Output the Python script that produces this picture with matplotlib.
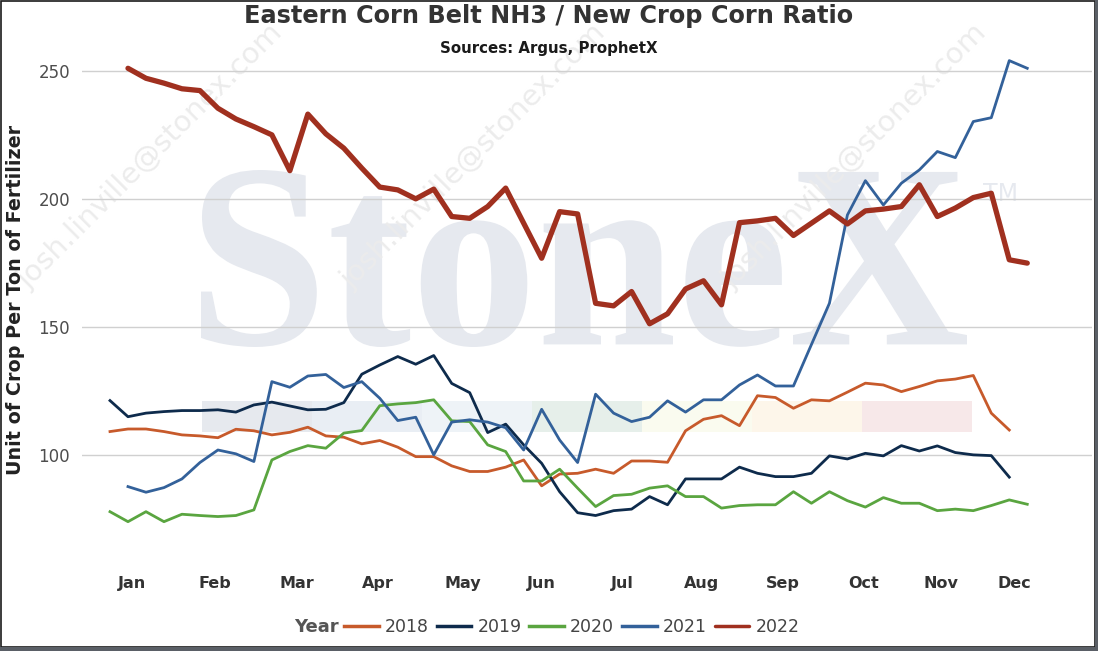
import numpy as np
import matplotlib
matplotlib.use("Agg")
from matplotlib import pyplot as plt
from matplotlib.patches import Rectangle, PathPatch
from matplotlib.textpath import TextPath
from matplotlib.font_manager import FontProperties
from matplotlib.transforms import Affine2D

# weekly ratio values (week index 0 = first week of Jan)
y2018 = [109.0, 110.0, 110.0, 109.0, 107.7, 107.3, 106.6, 109.9, 109.3, 107.7,
         108.7, 110.7, 107.3, 106.8, 104.2, 105.5, 102.9, 99.2, 99.2, 95.6,
         93.4, 93.4, 95.1, 97.9, 87.8, 92.4, 92.7, 94.3, 92.7, 97.5,
         97.5, 97.0, 109.3, 113.8, 115.2, 111.3, 123.0, 122.3, 118.1, 121.4,
         121.0, 124.4, 127.9, 127.2, 124.6, 126.6, 128.8, 129.5, 130.9, 116.2,
         109.6]
y2019 = [121.1, 114.8, 116.2, 116.8, 117.2, 117.2, 117.5, 116.6, 119.4, 120.5,
         119.0, 117.5, 117.7, 120.3, 131.4, 135.0, 138.3, 135.3, 138.7, 127.8,
         124.2, 108.6, 111.9, 103.8, 96.6, 85.5, 77.3, 76.2, 78.1, 78.7,
         83.6, 80.4, 90.5, 90.5, 90.5, 95.1, 92.7, 91.4, 91.4, 92.7,
         99.5, 98.3, 100.5, 99.5, 103.5, 101.4, 103.4, 100.8, 99.9, 99.6,
         91.2]
y2020 = [77.7, 73.8, 77.7, 73.8, 76.7, 76.2, 75.8, 76.2, 78.4, 97.9,
         101.2, 103.5, 102.5, 108.4, 109.4, 119.1, 119.8, 120.3, 121.4, 113.2,
         112.9, 103.8, 101.2, 89.7, 89.7, 94.3, 86.9, 79.7, 84.0, 84.5,
         86.9, 87.8, 83.6, 83.6, 79.1, 80.1, 80.4, 80.4, 85.5, 81.0,
         85.5, 82.0, 79.5, 83.2, 81.0, 81.0, 78.1, 78.7, 78.1, 80.1,
         82.3, 80.6]
y2021 = [87.5, 85.3, 87.1, 90.5, 96.9, 101.8, 100.3, 97.3, 128.5, 126.3,
         130.7, 131.3, 126.2, 128.5, 122.0, 113.3, 114.6, 99.9, 112.7, 113.6,
         112.7, 110.5, 101.8, 117.7, 105.7, 96.9, 123.6, 116.2, 112.9, 114.6,
         121.0, 116.6, 121.4, 121.4, 127.2, 131.1, 126.8, 126.8, 143.0, 159.1,
         193.6, 207.0, 197.5, 206.0, 211.2, 218.4, 216.0, 230.1, 231.6, 253.9,
         250.9]
y2022 = [250.9, 247.0, 245.1, 242.9, 242.2, 235.3, 231.1, 228.1, 224.9, 210.9,
         233.0, 225.3, 219.7, 211.9, 204.5, 203.4, 199.9, 203.7, 193.0, 192.3,
         196.9, 204.1, 190.4, 176.7, 194.9, 194.0, 159.1, 158.1, 163.7, 151.1,
         155.0, 164.7, 167.9, 158.5, 190.6, 191.3, 192.3, 185.6, 190.4, 195.2,
         190.1, 195.2, 195.9, 196.9, 205.4, 193.0, 196.3, 200.4, 202.1, 176.1,
         174.8]

wk2018 = np.arange(0, len(y2018))
wk2019 = np.arange(0, len(y2019))
wk2020 = np.arange(0, len(y2020))
wk2021 = np.arange(1, 1 + len(y2021))
wk2022 = np.arange(1, 1 + len(y2022))

months = ['Jan', 'Feb', 'Mar', 'Apr', 'May', 'Jun',
          'Jul', 'Aug', 'Sep', 'Oct', 'Nov', 'Dec']
month_pos = [1.22, 5.84, 10.4, 14.9, 19.6, 24.0, 28.5, 32.9, 37.4, 41.9, 46.2, 50.3]

W, H = 1098, 651
fig = plt.figure(figsize=(W / 100, H / 100), dpi=100)
fig.patch.set_facecolor('white')


def fx(px):
    return px / W


def fy(py):
    return 1 - py / H


# --- watermark (behind everything) ---
wm_color = '#e6e9ef'
tp = TextPath((0, 0), 'StoneX', size=100,
              prop=FontProperties(family='Liberation Serif', weight='bold'))
ext = tp.get_extents()
tr = (Affine2D().translate(-ext.x0, -ext.y0)
      .scale(766 / ext.width / W, 177 / ext.height / H)
      .translate(fx(201), fy(347)) + fig.transFigure)
fig.add_artist(PathPatch(tp, transform=tr, facecolor=wm_color, edgecolor='none', zorder=-3))
fig.text(fx(983), fy(194), 'TM', color=wm_color, fontsize=17, va='center', ha='left', zorder=-3)

band_colors = ['#e6e9ee', '#e9eef4', '#eef3f7', '#e6efea', '#fafbef', '#fdf6ea', '#f7e8e9']
for i, c in enumerate(band_colors):
    fig.add_artist(Rectangle((fx(202 + 110 * i), fy(432)), 110 / W, 31 / H,
                             transform=fig.transFigure, facecolor=c, edgecolor='none', zorder=-3))

for sx in [28, 351, 732]:
    fig.text(fx(sx), fy(290), 'josh.linville@stonex.com', rotation=45,
             rotation_mode='anchor', ha='left', va='baseline', fontsize=21,
             color='#ececec', zorder=-2)

# --- axes ---
ax = fig.add_axes([fx(82), fy(557), 1010 / W, 512 / H])
ax.set_facecolor('none')

ax.plot(wk2018, y2018, color='#c75a2b', lw=2.0, label='2018')
ax.plot(wk2019, y2019, color='#0e2b4c', lw=2.0, label='2019')
ax.plot(wk2020, y2020, color='#5aa540', lw=2.0, label='2020')
ax.plot(wk2021, y2021, color='#33619a', lw=2.0, label='2021')
ax.plot(wk2022, y2022, color='#a0301f', lw=3.8, label='2022', solid_capstyle='round')

ax.set_xlim(-1.557, 54.6)
ax.set_ylim(60, 260)
ax.set_yticks([100, 150, 200, 250])
ax.set_xticks(month_pos)
ax.set_xticklabels(months, fontweight='bold', fontsize=11.5, color='#333333')
ax.tick_params(axis='y', length=0, pad=8.6, labelsize=12, labelcolor='#4d4d4d')
ax.tick_params(axis='x', length=0, pad=14.0)
ax.grid(axis='y', color='#d0d0d0', lw=1.0)
ax.set_axisbelow(True)
for s in ax.spines.values():
    s.set_visible(False)

ax.set_ylabel('Unit of Crop Per Ton of Fertilizer', fontsize=13.8, fontweight='bold', color='#222222')
ax.yaxis.set_label_coords(-0.0564, 0.502)

fig.text(fx(549), fy(16), 'Eastern Corn Belt NH3 / New Crop Corn Ratio',
         ha='center', va='center', fontsize=17.3, fontweight='bold', color='#333333')
fig.text(fx(549), fy(48.5), 'Sources: Argus, ProphetX',
         ha='center', va='center', fontsize=10.8, fontweight='bold', color='#1a1a1a')

# legend
fig.text(fx(294), fy(627), 'Year', ha='left', va='center', fontsize=13,
         fontweight='bold', color='#555555')
handles, labels = ax.get_legend_handles_labels()
leg = fig.legend(handles, labels, loc='center left', bbox_to_anchor=(fx(344), fy(627)),
                 ncol=5, frameon=False, fontsize=12.5, handlelength=2.0,
                 handletextpad=0.35, columnspacing=0.45, borderpad=0, borderaxespad=0,
                 labelcolor='#444444')
for ln in leg.get_lines():
    ln.set_linewidth(2.5)

# outer frame with shadow
fig.add_artist(Rectangle((fx(1), fy(647)), 1094 / W, 646 / H, transform=fig.transFigure,
                         fill=False, edgecolor='#1a1a1a', lw=1.2, zorder=5))
fig.add_artist(Rectangle((fx(1095), 0), 3 / W, 1, transform=fig.transFigure,
                         facecolor='#5a5f66', edgecolor='none', zorder=5))
fig.add_artist(Rectangle((0, 0), 1, 4 / H, transform=fig.transFigure,
                         facecolor='#5a5f66', edgecolor='none', zorder=5))

fig.savefig('out.png', dpi=100)
